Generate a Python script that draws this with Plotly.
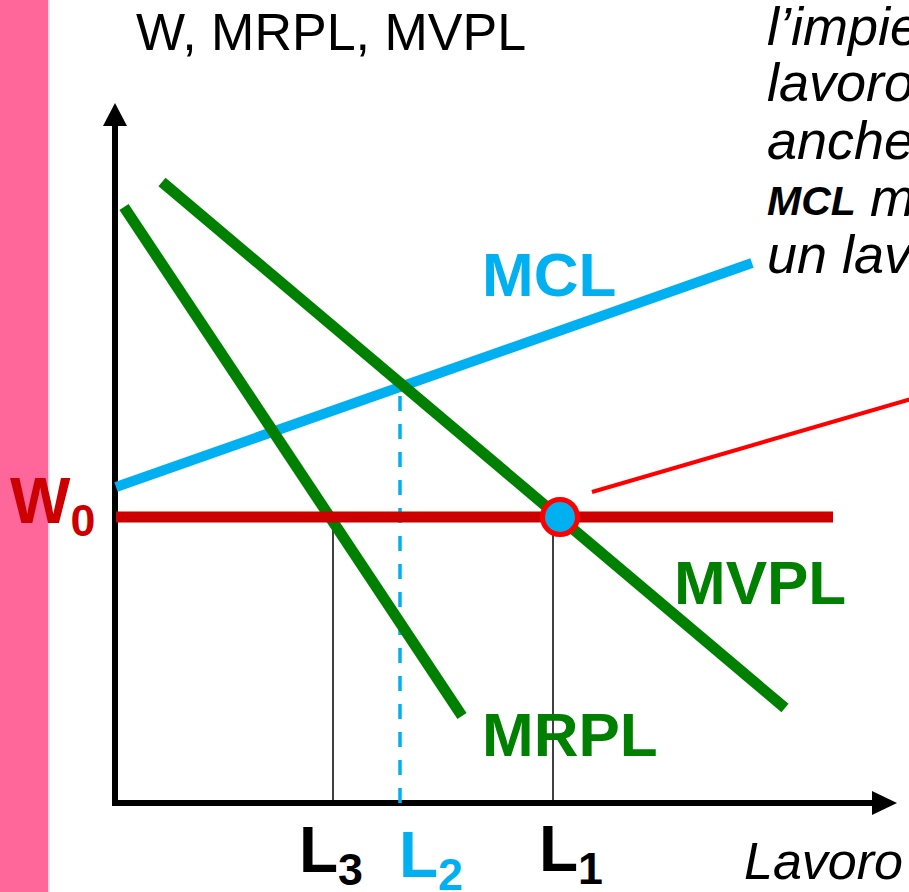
import plotly.graph_objects as go

# ---- data (Lavoro on x, W on y) ----
mrpl_x = [0.9, 34.7]
mrpl_y = [59.6, 8.7]
mvpl_x = [4.7, 67.0]
mvpl_y = [62.1, 9.5]
mcl_x = [0.1, 63.7]
mcl_y = [31.6, 54.0]
w0_level = 28.6
w0_x = [0.1, 71.8]
L3_val, L2_val, L1_val = 21.8, 28.5, 43.8
L2_top = 42.0
eq_point_x = [44.5]
pointer_x = [47.7, 82.0]
pointer_y = [31.1, 41.1]
x_axis_end = 75.7
y_axis_end = 67.7

W, H = 909, 892
X0PX, Y0PX, SCALE = 115, 803, 10.0  # pixel position of origin, px per unit
xr = [(0 - X0PX) / SCALE, (W - X0PX) / SCALE]
yr = [(Y0PX - H) / SCALE, (Y0PX - 0) / SCALE]

def px(x):
    return x / W

def py(y):
    return 1 - y / H

GREEN = "#008000"
BLUE = "#00B0F0"
DRED = "#CC0000"
RED = "#FF0000"

fig = go.Figure()

# axes
fig.add_trace(go.Scatter(x=[0, 0], y=[-0.3, y_axis_end], mode="lines",
                         line=dict(color="black", width=6), hoverinfo="skip"))
fig.add_trace(go.Scatter(x=[-0.3, x_axis_end], y=[0, 0], mode="lines",
                         line=dict(color="black", width=6), hoverinfo="skip"))
ah = 2.4
fig.add_trace(go.Scatter(x=[-ah / 2, ah / 2, 0, -ah / 2],
                         y=[y_axis_end, y_axis_end, y_axis_end + 2.3, y_axis_end],
                         mode="lines", fill="toself", fillcolor="black",
                         line=dict(color="black", width=0), hoverinfo="skip"))
fig.add_trace(go.Scatter(x=[x_axis_end, x_axis_end, x_axis_end + 2.5, x_axis_end],
                         y=[-ah / 2, ah / 2, 0, -ah / 2],
                         mode="lines", fill="toself", fillcolor="black",
                         line=dict(color="black", width=0), hoverinfo="skip"))

# vertical guide lines
fig.add_trace(go.Scatter(x=[L3_val, L3_val], y=[0, w0_level], mode="lines",
                         line=dict(color="black", width=1.5), hoverinfo="skip"))
fig.add_trace(go.Scatter(x=[L1_val, L1_val], y=[0, w0_level], mode="lines",
                         line=dict(color="black", width=1.5), hoverinfo="skip"))
fig.add_trace(go.Scatter(x=[L2_val, L2_val], y=[0, L2_top], mode="lines",
                         line=dict(color=BLUE, width=3.5, dash="15px,13px"), hoverinfo="skip"))

# curves
fig.add_trace(go.Scatter(x=mcl_x, y=mcl_y, mode="lines",
                         line=dict(color=BLUE, width=10), hoverinfo="skip"))
fig.add_trace(go.Scatter(x=mrpl_x, y=mrpl_y, mode="lines",
                         line=dict(color=GREEN, width=11), hoverinfo="skip"))
fig.add_trace(go.Scatter(x=mvpl_x, y=mvpl_y, mode="lines",
                         line=dict(color=GREEN, width=11), hoverinfo="skip"))
fig.add_trace(go.Scatter(x=w0_x, y=[w0_level, w0_level], mode="lines",
                         line=dict(color=DRED, width=11), hoverinfo="skip"))
fig.add_trace(go.Scatter(x=pointer_x, y=pointer_y, mode="lines",
                         line=dict(color=RED, width=4), hoverinfo="skip"))
fig.add_trace(go.Scatter(x=eq_point_x, y=[w0_level], mode="markers",
                         marker=dict(size=35, color=BLUE, line=dict(color=RED, width=5)),
                         hoverinfo="skip"))

annotations = []

def add_text(text, xpx, ypx, size, color="black", bold=False, italic=False,
             xanchor="left", yanchor="middle", family="Liberation Sans, Arial, sans-serif"):
    t = text
    if bold:
        t = "<b>" + t + "</b>"
    if italic:
        t = "<i>" + t + "</i>"
    annotations.append(dict(text=t, x=px(xpx), y=py(ypx), xref="paper", yref="paper",
                            xanchor=xanchor, yanchor=yanchor, showarrow=False,
                            font=dict(size=size, color=color, family=family)))

add_text("W, MRPL, MVPL", 134, 32, 52)
add_text("MCL", 479.5, 274.5, 62, BLUE, bold=True)
add_text("MVPL", 671.5, 582.5, 62, GREEN, bold=True)
add_text("MRPL", 479.5, 734.5, 62, GREEN, bold=True)
add_text("W<sub>0</sub>", 8, 463, 64, DRED, bold=True, yanchor="top")
add_text("L<sub>3</sub>", 297, 812, 64, "black", bold=True, yanchor="top")
add_text("L<sub>2</sub>", 397, 817, 64, BLUE, bold=True, yanchor="top")
add_text("L<sub>1</sub>", 537, 811, 64, "black", bold=True, yanchor="top")
add_text("Lavoro", 742, 860.5, 52, italic=True)

SIDE_FS = 54
side_lines = ["l’impiego", "lavoro", "anche", None, "un lavoratore"]
side_baselines = [45, 101, 159, 216, 273]
for s, b in zip(side_lines, side_baselines):
    if s is None:
        add_text("MCL", 765, b - 0.358 * 41, 41, bold=True, italic=True)
        add_text("maggiore", 868, b - 0.3465 * SIDE_FS, SIDE_FS, italic=True)
    else:
        add_text(s, 765, b - 0.3465 * SIDE_FS, SIDE_FS, italic=True)

shapes = [
    dict(type="rect", xref="paper", yref="paper", x0=0, x1=px(48.5), y0=0, y1=1,
         fillcolor="#FF6699", line=dict(width=0), layer="below"),
    dict(type="line", xref="paper", yref="paper", x0=px(49.2), x1=px(49.2), y0=0, y1=1,
         line=dict(color="#CFEFF8", width=1.5), layer="below"),
]

fig.update_layout(
    width=W, height=H,
    margin=dict(l=0, r=0, t=0, b=0),
    paper_bgcolor="white", plot_bgcolor="white",
    showlegend=False,
    xaxis=dict(range=xr, visible=False, fixedrange=True),
    yaxis=dict(range=yr, visible=False, fixedrange=True),
    annotations=annotations,
    shapes=shapes,
)

fig.write_html("out.html", config={"displayModeBar": False},
               post_script="document.body.style.margin='0';document.body.style.overflow='hidden';")
